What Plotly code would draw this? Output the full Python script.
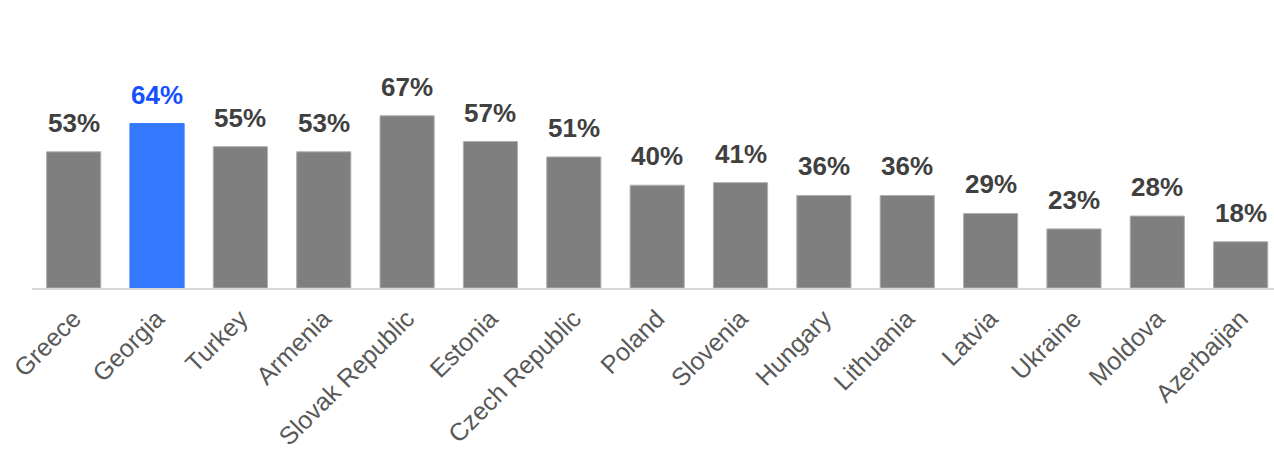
import plotly.graph_objects as go

countries = ["Greece", "Georgia", "Turkey", "Armenia", "Slovak Republic", "Estonia",
             "Czech Republic", "Poland", "Slovenia", "Hungary", "Lithuania", "Latvia",
             "Ukraine", "Moldova", "Azerbaijan"]
values = [53, 64, 55, 53, 67, 57, 51, 40, 41, 36, 36, 29, 23, 28, 18]
highlight = "Georgia"

bar_colors = ["#3479ff" if c == highlight else "#7f7f7f" for c in countries]
line_colors = ["#3479ff" if c == highlight else "#b0b0b0" for c in countries]
label_colors = ["#1450ff" if c == highlight else "#404040" for c in countries]

fig = go.Figure()
fig.add_trace(go.Bar(
    x=countries, y=values, width=0.65,
    marker=dict(color=bar_colors, line=dict(color=line_colors, width=1)),
    hoverinfo="skip",
))

for c, v, col in zip(countries, values, label_colors):
    fig.add_annotation(x=c, y=v, text=f"<b>{v}%</b>", showarrow=False,
                       yanchor="bottom", yshift=12,
                       font=dict(family="Liberation Sans, Arial", size=26, color=col))

fig.update_layout(
    width=1274, height=455,
    margin=dict(l=32, r=0, t=31, b=167, autoexpand=False),
    paper_bgcolor="white", plot_bgcolor="white",
    showlegend=False,
    font=dict(family="Liberation Sans, Arial", color="#595959"),
    xaxis=dict(range=[-0.5, 14.4], tickangle=-45, automargin=False,
               tickfont=dict(size=25, color="#595959"),
               showline=True, linecolor="#d9d9d9", linewidth=2,
               ticks="", ticklabelstandoff=4, showgrid=False),
    yaxis=dict(range=[0, 100], visible=False, showgrid=False, automargin=False),
)

fig.write_html("out.html", config={"displayModeBar": False},
               post_script="document.body.style.margin='0';")
